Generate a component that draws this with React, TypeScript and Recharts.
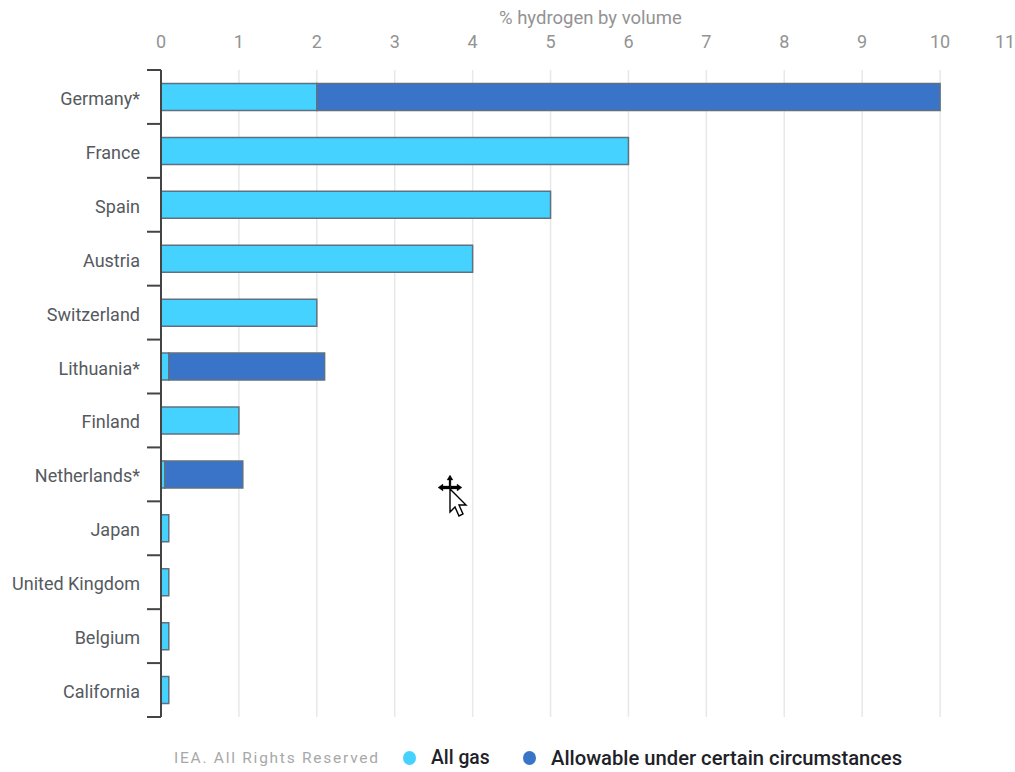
import React from "react";
import { BarChart, Bar, XAxis, YAxis, CartesianGrid, Legend } from "recharts";

const countries = ["Germany*", "France", "Spain", "Austria", "Switzerland", "Lithuania*", "Finland", "Netherlands*", "Japan", "United Kingdom", "Belgium", "California"];
const allGas = [2, 6, 5, 4, 2, 0.1, 1, 0.05, 0.1, 0.1, 0.1, 0.1];
const allowable = [8, 0, 0, 0, 0, 2, 0, 1, 0, 0, 0, 0];
const xTicks = [0, 1, 2, 3, 4, 5, 6, 7, 8, 9, 10, 11];

const rows = countries.map((country, i) => ({ country, allGas: allGas[i], allowable: allowable[i] }));

const GAS_COLOR = "#45D2FF";
const ALLOWABLE_COLOR = "#3A74C8";
const BAR_STROKE = "#5F7180";
const AXIS_COLOR = "#444444";
const FONT = "Roboto, sans-serif";

// The last tick sits past the edge of the page, so its label is pulled inward.
function TopTick({ x, y, payload }: any) {
  const dx = payload.value === 11 ? -13 : 0;
  return (
    <text x={x + dx} y={y} textAnchor="middle" fontFamily={FONT} fontSize={18} fill="#939393">
      {payload.value}
    </text>
  );
}

// Country label plus the marks on the edges of its band, so the axis ticks fall between bars.
function CountryTick({ x, y, payload, height, index }: any) {
  const halfBand = height / countries.length / 2;
  const edge = (yEdge: number) => (
    <line x1={x + 7} x2={x + 21} y1={yEdge} y2={yEdge} stroke={AXIS_COLOR} strokeWidth={2} />
  );
  return (
    <g>
      {index === 0 && edge(y - halfBand)}
      {edge(y + halfBand)}
      <text x={x} y={y + 8} textAnchor="end" fontFamily={FONT} fontSize={18} fill="#555A60">
        {payload.value}
      </text>
    </g>
  );
}

function Footer() {
  const dot = (color: string) => (
    <span style={{ display: "inline-block", width: 13, height: 14, borderRadius: "50%", background: color }} />
  );
  return (
    <div style={{ position: "relative", height: 24, fontFamily: FONT, whiteSpace: "nowrap" }}>
      <span style={{ position: "absolute", left: 174, top: 3, fontSize: 15.5, letterSpacing: 1.75, color: "#A8A8A8" }}>
        IEA. All Rights Reserved
      </span>
      <span style={{ position: "absolute", left: 403, top: 4 }}>{dot(GAS_COLOR)}</span>
      <span style={{ position: "absolute", left: 431, top: 0, fontSize: 19.3, fontWeight: 500, color: "#1E2228" }}>All gas</span>
      <span style={{ position: "absolute", left: 523, top: 4 }}>{dot(ALLOWABLE_COLOR)}</span>
      <span style={{ position: "absolute", left: 551, top: 0, fontSize: 20.2, fontWeight: 500, color: "#1E2228" }}>
        Allowable under certain circumstances
      </span>
    </div>
  );
}

// Move-cursor glyph resting over the plot area.
function PointerGlyph() {
  return (
    <svg width="40" height="50" style={{ position: "absolute", left: 433, top: 472 }}>
      <path d="M17 3l-3 5h2v6h-6v-2l-5 3.500 5 3.500v-2h6v0h2v-1.500M17 3l3 5h-2v6h6v-2l5 3.500-5 3.500v-2h-6" fill="#000" stroke="#000" strokeWidth="0.3" />
      <path d="M17 17v23l5-5 4 9 4-2-4-9h7z" fill="#fff" stroke="#000" strokeWidth="1.400" />
    </svg>
  );
}

export default function App() {
  return (
    <div style={{ position: "absolute", left: 0, top: 0, width: 1015, height: 772, overflow: "hidden", background: "#fff" }}>
      <div style={{ position: "absolute", left: 499, top: 7, whiteSpace: "nowrap", fontFamily: FONT, fontSize: 18.5, color: "#939393" }}>
        % hydrogen by volume
      </div>
      <BarChart
        width={1030}
        height={772}
        data={rows}
        layout="vertical"
        barCategoryGap="25%"
        margin={{ top: 0, right: 12, bottom: 31, left: 0 }}
      >
        <CartesianGrid horizontal={false} vertical stroke="#E8E8E8" strokeWidth={1.5} />
        <XAxis
          type="number"
          orientation="top"
          domain={[0, 11]}
          ticks={xTicks}
          interval={0}
          height={70}
          axisLine={false}
          tickLine={false}
          tick={<TopTick />}
          tickMargin={16}
        />
        <YAxis
          type="category"
          dataKey="country"
          width={161}
          interval={0}
          axisLine={{ stroke: AXIS_COLOR, strokeWidth: 2 }}
          tickLine={false}
          tick={<CountryTick />}
          tickMargin={15}
        />
        <Bar dataKey="allGas" stackId="a" fill={GAS_COLOR} stroke={BAR_STROKE} strokeWidth={1.5} isAnimationActive={false} />
        <Bar dataKey="allowable" stackId="a" fill={ALLOWABLE_COLOR} stroke={BAR_STROKE} strokeWidth={1.5} isAnimationActive={false} />
        <Legend
          content={<Footer />}
          wrapperStyle={{ position: "absolute", left: 0, top: 746, width: 1015, height: 24 }}
        />
      </BarChart>
      <PointerGlyph />
    </div>
  );
}
